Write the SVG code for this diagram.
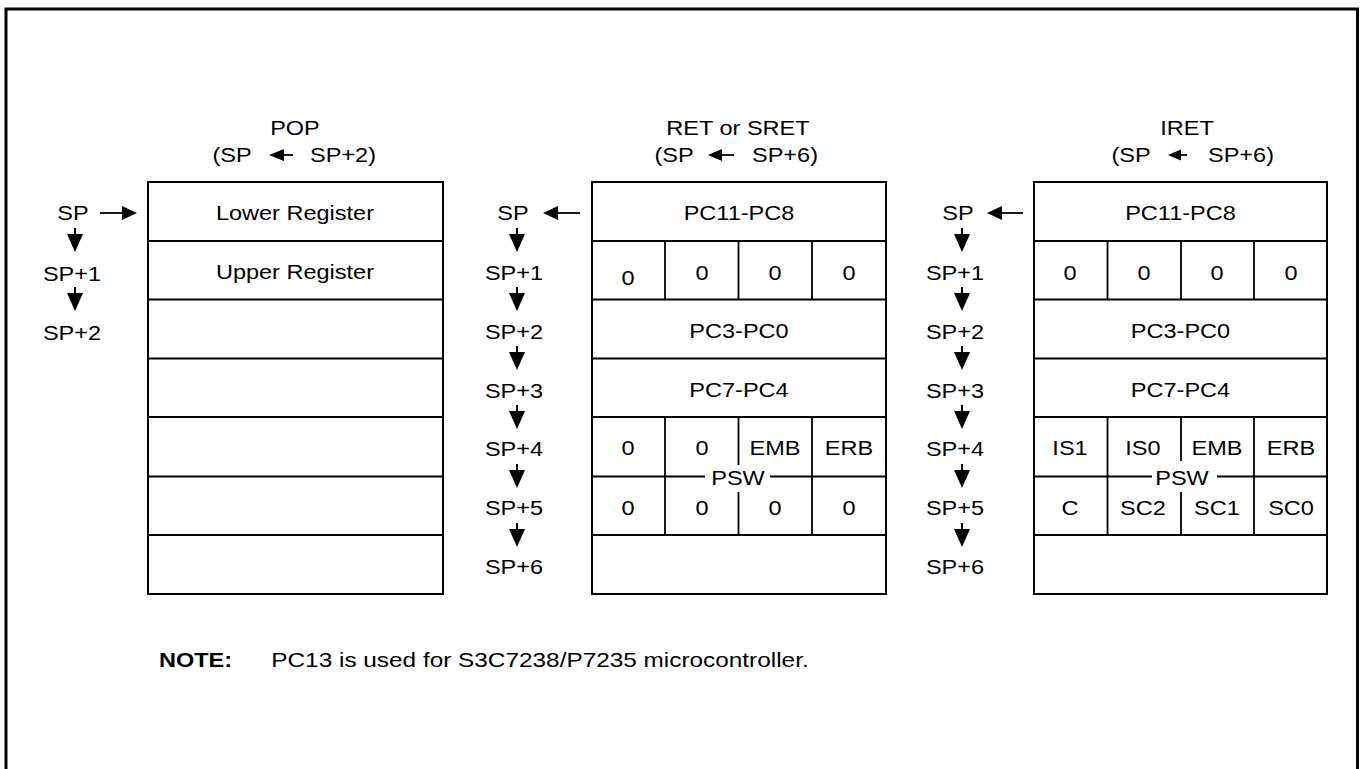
<svg xmlns="http://www.w3.org/2000/svg" xmlns:xlink="http://www.w3.org/1999/xlink" width="1360" height="769" viewBox="0 0 1360 769">
<style>
text{font-family:"Liberation Sans",Arial,sans-serif;font-size:21px;fill:#000;text-anchor:middle;transform-box:fill-box;transform-origin:center;transform:scaleX(1.12)}
.b{font-weight:bold}
.w{transform:scaleX(1.16)}
.box{fill:#fff;stroke:#000;stroke-width:2}
.ln{stroke:#000;stroke-width:1.8;fill:none}
.frame{fill:none;stroke:#000;stroke-width:3}
.ah{fill:#000;stroke:none}
</style>
<defs>
<g id="dn"><rect x="-1" y="0" width="2" height="7" class="ah"/><polygon points="-8,6 8,6 0,24" class="ah"/></g>
</defs>
<rect width="1360" height="769" fill="#fff"/>
<path class="frame" d="M6,790 V9 H1357.5 V790"/>

<g id="pop">
<text x="295" y="135">POP</text>
<text x="232" y="162">(SP</text>
<text x="343" y="162">SP+2)</text>
<rect class="box" x="148" y="182" width="295" height="412"/>
<path class="ln" d="M148,241H443M148,299.5H443M148,358.5H443M148,417H443M148,476.5H443M148,535H443"/>
<text x="295" y="220">Lower Register</text>
<text x="295" y="279">Upper Register</text>
<text x="73" y="220">SP</text>
<text x="72" y="281">SP+1</text>
<text x="72" y="340">SP+2</text>
</g>

<g id="ret">
<text x="738" y="135">RET or SRET</text>
<text x="674" y="162">(SP</text>
<text x="785" y="162">SP+6)</text>
<rect class="box" x="592" y="182" width="294" height="412"/>
<path class="ln" d="M592,241H886M592,299.5H886M592,358.5H886M592,417H886M592,535H886M592,476.5H705M770,476.5H886M665,241V299.5M738.5,241V299.5M812,241V299.5M665,417V535M812,417V535M738.5,417V465M738.5,492V535"/>
<text x="739" y="220">PC11-PC8</text>
<text x="628" y="285">0</text>
<text x="702" y="280">0</text>
<text x="775" y="280">0</text>
<text x="849" y="280">0</text>
<text x="739" y="338">PC3-PC0</text>
<text x="739" y="397">PC7-PC4</text>
<text x="628" y="455">0</text>
<text x="702" y="455">0</text>
<text x="775" y="455">EMB</text>
<text x="849" y="455">ERB</text>
<text x="738" y="485">PSW</text>
<text x="628" y="515">0</text>
<text x="702" y="515">0</text>
<text x="775" y="515">0</text>
<text x="849" y="515">0</text>
<text x="513" y="220">SP</text>
<text x="514" y="280">SP+1</text>
<text x="514" y="339">SP+2</text>
<text x="514" y="398">SP+3</text>
<text x="514" y="456">SP+4</text>
<text x="514" y="515">SP+5</text>
<text x="514" y="574">SP+6</text>
</g>

<g id="iret">
<text x="1187" y="135">IRET</text>
<text x="1131" y="162">(SP</text>
<text x="1241" y="162">SP+6)</text>
<rect class="box" x="1034" y="182" width="293" height="412"/>
<path class="ln" d="M1034,241H1327M1034,299.5H1327M1034,358.5H1327M1034,417H1327M1034,535H1327M1034,476.5H1152M1217,476.5H1327M1107.5,241V299.5M1181,241V299.5M1254,241V299.5M1107.5,417V535M1254,417V535M1181,417V461M1181,492V535"/>
<text x="1180.5" y="220">PC11-PC8</text>
<text x="1070" y="280">0</text>
<text x="1144" y="280">0</text>
<text x="1217" y="280">0</text>
<text x="1291" y="280">0</text>
<text x="1180.5" y="338">PC3-PC0</text>
<text x="1180.5" y="397">PC7-PC4</text>
<text x="1070" y="455">IS1</text>
<text x="1143" y="455">IS0</text>
<text x="1217" y="455">EMB</text>
<text x="1291" y="455">ERB</text>
<text x="1182" y="485">PSW</text>
<text x="1070" y="515">C</text>
<text x="1143" y="515">SC2</text>
<text x="1217" y="515">SC1</text>
<text x="1291" y="515">SC0</text>
<text x="958" y="220">SP</text>
<text x="955" y="280">SP+1</text>
<text x="955" y="339">SP+2</text>
<text x="955" y="398">SP+3</text>
<text x="955" y="456">SP+4</text>
<text x="955" y="515">SP+5</text>
<text x="955" y="574">SP+6</text>
</g>

<g id="connectors">
<path class="ln" d="M282,155H293"/><polygon class="ah" points="269,155 284,149 284,161"/>
<path class="ln" d="M720,155H734"/><polygon class="ah" points="708,155 722,149 722,161"/>
<path class="ln" d="M1179,155H1187"/><polygon class="ah" points="1168,155 1181,149.5 1181,160.5"/>
<path class="ln" d="M100,213H124"/><polygon class="ah" points="137,213 122,206 122,220"/>
<path class="ln" d="M556,213H580"/><polygon class="ah" points="543,213 558,206 558,220"/>
<path class="ln" d="M1000,213H1023"/><polygon class="ah" points="987,213 1002,206 1002,220"/>
<use xlink:href="#dn" x="75" y="228"/>
<use xlink:href="#dn" x="75" y="287"/>
<use xlink:href="#dn" x="517" y="228"/>
<use xlink:href="#dn" x="517" y="287"/>
<use xlink:href="#dn" x="517" y="346"/>
<use xlink:href="#dn" x="517" y="405"/>
<use xlink:href="#dn" x="517" y="464"/>
<use xlink:href="#dn" x="517" y="523"/>
<use xlink:href="#dn" x="962" y="228"/>
<use xlink:href="#dn" x="962" y="287"/>
<use xlink:href="#dn" x="962" y="346"/>
<use xlink:href="#dn" x="962" y="405"/>
<use xlink:href="#dn" x="962" y="464"/>
<use xlink:href="#dn" x="962" y="523"/>
</g>

<g id="note">
<text class="b" x="195.5" y="667">NOTE:</text>
<text class="w" x="540" y="667">PC13 is used for S3C7238/P7235 microcontroller.</text>
</g>
</svg>
